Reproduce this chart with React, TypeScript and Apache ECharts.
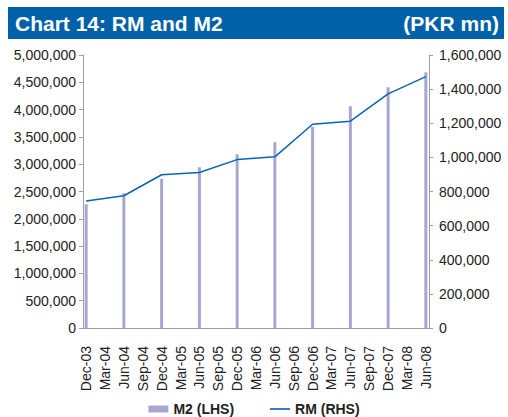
import React, { useEffect, useRef } from "react";
import * as echarts from "echarts";

// Quarterly tick labels shown on the x axis
const tickLabels = [
  "Dec-03", "Mar-04", "Jun-04", "Sep-04", "Dec-04", "Mar-05", "Jun-05", "Sep-05",
  "Dec-05", "Mar-06", "Jun-06", "Sep-06", "Dec-06", "Mar-07", "Jun-07", "Sep-07",
  "Dec-07", "Mar-08", "Jun-08",
];

// Observation periods (half-yearly)
const periods = [
  "Dec-03", "Jun-04", "Dec-04", "Jun-05", "Dec-05",
  "Jun-06", "Dec-06", "Jun-07", "Dec-07", "Jun-08",
];

// M2 (LHS), PKR mn
const m2Values = [
  2268000, 2469000, 2731000, 2945000, 3183000,
  3402000, 3683000, 4061000, 4408000, 4683000,
];

// RM (RHS), PKR mn
const rmValues = [
  745000, 775000, 898000, 911000, 987000,
  1003000, 1194000, 1212000, 1372000, 1473000,
];

const monthNames = ["Jan", "Feb", "Mar", "Apr", "May", "Jun", "Jul", "Aug", "Sep", "Oct", "Nov", "Dec"];

// Monthly categories Dec-03 .. Jun-08 (date axis, monthly base unit)
const categories: string[] = [];
for (let y = 2003; y <= 2008; y++) {
  for (let m = 0; m < 12; m++) {
    if (y === 2003 && m < 11) continue;
    if (y === 2008 && m > 5) continue;
    categories.push(`${monthNames[m]}-${String(y % 100).padStart(2, "0")}`);
  }
}

const FONT = "'Liberation Sans', Arial, Helvetica, sans-serif";

export default function App() {
  const ref = useRef<HTMLDivElement>(null);

  useEffect(() => {
    document.body.style.margin = "0";
    if (!ref.current) return;
    const chart = echarts.init(ref.current, null, { renderer: "svg" });

    const m2Series = categories.map((c) => {
      const i = periods.indexOf(c);
      return i >= 0 ? m2Values[i] : null;
    });
    const rmSeries = categories.map((c) => {
      const i = periods.indexOf(c);
      return i >= 0 ? rmValues[i] : null;
    });

    const isTick = (idx: number) => tickLabels.includes(categories[idx]);
    const fmt = (v: number) => v.toLocaleString("en-US");
    const axisColor = "#a0a0a0";
    const lineColor = "#0a64b4";

    chart.setOption({
      animation: false,
      textStyle: { fontFamily: FONT },
      graphic: [
        {
          type: "rect",
          shape: { x: 8, y: 7, width: 496, height: 32 },
          style: { fill: "#0061a9" },
        },
        {
          type: "text",
          x: 15,
          y: 23,
          style: {
            text: "Chart 14: RM and M2",
            fill: "#ffffff",
            font: `bold 21px ${FONT}`,
            verticalAlign: "middle",
          },
        },
        {
          type: "text",
          x: 499,
          y: 23,
          style: {
            text: "(PKR mn)",
            fill: "#ffffff",
            font: `bold 21px ${FONT}`,
            align: "right",
            verticalAlign: "middle",
          },
        },
      ],
      grid: { left: 83, right: 79, top: 55, bottom: 89 },
      legend: {
        top: 401,
        left: "center",
        padding: 0,
        itemWidth: 20,
        itemHeight: 7,
        itemGap: 36,
        textStyle: { fontFamily: FONT, fontSize: 14, fontWeight: "bold", color: "#222", lineHeight: 16 },
        data: [
          { name: "M2 (LHS)", icon: "rect" },
          { name: "RM (RHS)", icon: "path://M0,0 L24,0 L24,2 L0,2 Z" },
        ],
      },
      xAxis: {
        type: "category",
        data: categories,
        boundaryGap: true,
        axisLine: { lineStyle: { color: axisColor, width: 1 } },
        axisTick: { interval: (idx: number) => isTick(idx), length: 4, lineStyle: { color: axisColor } },
        axisLabel: {
          interval: (idx: number) => isTick(idx),
          rotate: 90,
          margin: 18,
          fontSize: 14,
          color: "#222",
          fontFamily: FONT,
        },
        splitLine: { show: false },
      },
      yAxis: [
        {
          type: "value",
          min: 0,
          max: 5000000,
          interval: 500000,
          position: "left",
          axisLine: { show: true, lineStyle: { color: axisColor } },
          axisTick: { show: true, length: 4, lineStyle: { color: axisColor } },
          axisLabel: { formatter: fmt, fontSize: 14, color: "#222", margin: 7, fontFamily: FONT },
          splitLine: { show: false },
        },
        {
          type: "value",
          min: 0,
          max: 1600000,
          interval: 200000,
          position: "right",
          axisLine: { show: true, lineStyle: { color: axisColor } },
          axisTick: { show: true, length: 4, lineStyle: { color: axisColor } },
          axisLabel: { formatter: fmt, fontSize: 14, color: "#222", margin: 10, fontFamily: FONT },
          splitLine: { show: false },
        },
      ],
      series: [
        {
          name: "M2 (LHS)",
          type: "bar",
          yAxisIndex: 0,
          data: m2Series,
          barWidth: 3,
          itemStyle: { color: "#a6a6d0" },
        },
        {
          name: "RM (RHS)",
          type: "line",
          yAxisIndex: 1,
          data: rmSeries,
          connectNulls: true,
          symbol: "none",
          lineStyle: { color: lineColor, width: 1.5 },
          itemStyle: { color: lineColor },
        },
      ],
    });

    return () => chart.dispose();
  }, []);

  return <div ref={ref} style={{ width: 508, height: 417 }} />;
}
